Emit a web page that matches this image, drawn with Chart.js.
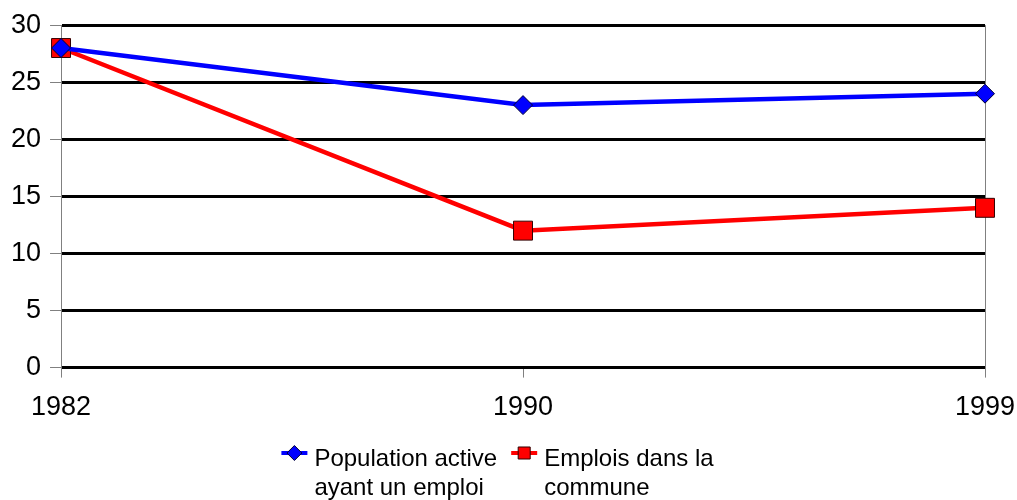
<!DOCTYPE html>
<html lang="fr">
<head>
    <meta charset="UTF-8">
    <title>Population active et emplois</title>
    <script src="https://cdn.jsdelivr.net/npm/chart.js"></script>
    <style>
        body {
            margin: 0;
            background: #ffffff;
        }
        #wrap {
            width: 1017px;
            height: 500px;
        }
    </style>
</head>
<body>
    <div id="wrap"><canvas id="lineChart"></canvas></div>
    <script>
        // donnees
        const annees = ["1982", "1990", "1999"];
        const populationActive = [28, 23, 24];
        const emploisCommune = [28, 12, 14];
        const labelPopulation = ["Population active", "ayant un emploi"];
        const labelEmplois = ["Emplois dans la", "commune"];

        const police = "'Liberation Sans', Arial, sans-serif";

        // legende dessinee a la main (libelles sur deux lignes)
        const legendeBas = {
            id: "legendeBas",
            afterDraw(chart) {
                const ctx = chart.ctx;
                const sets = chart.data.datasets;
                ctx.save();
                ctx.font = "24px " + police;
                ctx.textBaseline = "alphabetic";
                ctx.textAlign = "left";
                const largeurs = sets.map(ds => Math.max(...ds.label.map(t => ctx.measureText(t).width)));
                const trait = 26, ecart = 7, entre = 14;
                let total = 0;
                largeurs.forEach((w, i) => { total += trait + ecart + w + (i ? entre : 0); });
                let x = chart.width / 2 - total / 2 - 11;
                const yMarque = 453;
                sets.forEach((ds, i) => {
                    ctx.strokeStyle = ds.borderColor;
                    ctx.lineWidth = 4;
                    ctx.beginPath();
                    ctx.moveTo(x, yMarque);
                    ctx.lineTo(x + trait, yMarque);
                    ctx.stroke();
                    ctx.fillStyle = ds.pointBackgroundColor;
                    ctx.strokeStyle = ds.pointBorderColor;
                    ctx.lineWidth = 1;
                    Chart.helpers.drawPoint(ctx, {
                        pointStyle: ds.pointStyle,
                        radius: ds.pointStyle === "rect" ? 8.5 : 7.5,
                        rotation: 0,
                        borderWidth: 1
                    }, x + trait / 2, yMarque);
                    ctx.fillStyle = "#000000";
                    ds.label.forEach((t, j) => {
                        ctx.fillText(t, x + trait + ecart, 466 + j * 29);
                    });
                    x += trait + ecart + largeurs[i] + entre;
                });
                ctx.restore();
            }
        };

        const ctx = document.getElementById("lineChart").getContext("2d");
        new Chart(ctx, {
            type: "line",
            data: {
                labels: annees,
                datasets: [
                    {
                        label: labelPopulation,
                        data: populationActive,
                        borderColor: "#0000ff",
                        borderWidth: 4.5,
                        pointStyle: "rectRot",
                        pointRadius: 9.5,
                        pointHoverRadius: 9.5,
                        pointBackgroundColor: "#0000ff",
                        pointBorderColor: "#000033",
                        pointBorderWidth: 1,
                        tension: 0
                    },
                    {
                        label: labelEmplois,
                        data: emploisCommune,
                        borderColor: "#ff0000",
                        borderWidth: 4.5,
                        pointStyle: "rect",
                        pointRadius: 13.4,
                        pointHoverRadius: 13.4,
                        pointBackgroundColor: "#ff0000",
                        pointBorderColor: "#330000",
                        pointBorderWidth: 1,
                        tension: 0
                    }
                ]
            },
            options: {
                responsive: true,
                maintainAspectRatio: false,
                animation: false,
                events: [],
                layout: {
                    padding: { left: 2, right: 0, top: 10, bottom: 62 }
                },
                plugins: {
                    legend: { display: false },
                    tooltip: { enabled: false }
                },
                scales: {
                    x: {
                        offset: false,
                        border: { display: false },
                        grid: {
                            color: c => c.index === annees.length - 1 ? "#808080" : "rgba(0,0,0,0)",
                            tickColor: "#808080",
                            lineWidth: 1,
                            tickLength: 10
                        },
                        ticks: {
                            color: "#000000",
                            font: { family: police, size: 27 },
                            padding: 14,
                            maxRotation: 0
                        },
                        afterFit(s) {
                            s.paddingRight = 32;
                            s.paddingLeft = 0;
                        }
                    },
                    y: {
                        min: 0,
                        max: 30,
                        border: { display: true, color: "#808080", width: 1 },
                        grid: {
                            color: "#000000",
                            lineWidth: 3,
                            tickColor: "#808080",
                            tickWidth: 1,
                            tickLength: 11
                        },
                        ticks: {
                            stepSize: 5,
                            color: "#000000",
                            font: { family: police, size: 27 },
                            padding: 9
                        }
                    }
                }
            },
            plugins: [legendeBas]
        });
    </script>
</body>
</html>
